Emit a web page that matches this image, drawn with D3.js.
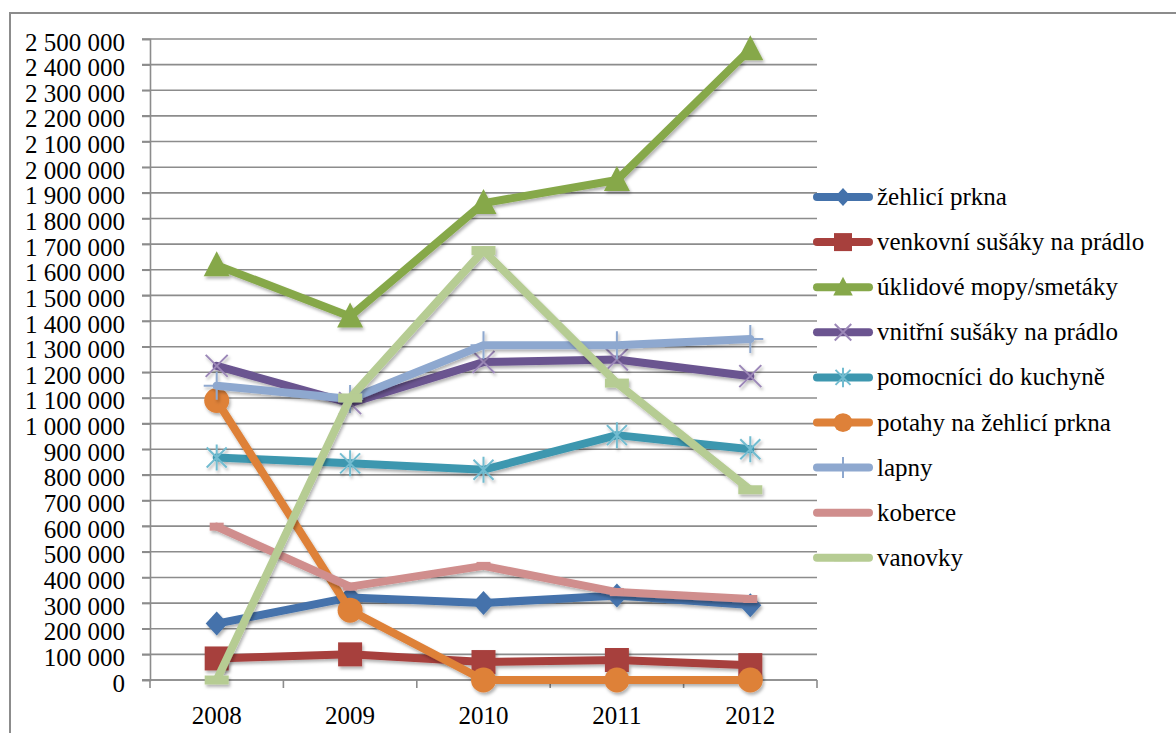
<!DOCTYPE html>
<html>
<head>
<meta charset="utf-8">
<script src="https://cdn.jsdelivr.net/npm/d3@7"></script>
</head>
<body style="margin:0;background:#fff">
<script>
// Years on the category axis
const years = ["2008", "2009", "2010", "2011", "2012"];

// Series names, in legend order
const seriesNames = [
  "žehlicí prkna",
  "venkovní sušáky na prádlo",
  "úklidové mopy/smetáky",
  "vnitřní sušáky na prádlo",
  "pomocníci do kuchyně",
  "potahy na žehlicí prkna",
  "lapny",
  "koberce",
  "vanovky"
];

// Values per series (2008–2012)
const zehliciPrkna     = [220000, 322000, 300000, 330000, 292000];
const venkovniSusaky   = [84000, 100000, 70000, 78000, 58000];
const uklidoveMopy     = [1618000, 1418000, 1860000, 1950000, 2460000];
const vnitrniSusaky    = [1225000, 1080000, 1240000, 1250000, 1185000];
const pomocniciKuchyne = [868000, 845000, 820000, 955000, 900000];
const potahyPrkna      = [1090000, 272000, 0, 0, 0];
const lapny            = [1148000, 1096000, 1306000, 1306000, 1330000];
const koberce          = [598000, 364000, 445000, 343000, 316000];
const vanovky          = [0, 1100000, 1675000, 1158000, 742000];

// Y-axis tick values
const yTicks = d3.range(0, 2500001, 100000);

const seriesValues = [zehliciPrkna, venkovniSusaky, uklidoveMopy, vnitrniSusaky,
  pomocniciKuchyne, potahyPrkna, lapny, koberce, vanovky];

const seriesColors = ["#4472AB", "#A7403D", "#86A84A", "#6B5490", "#3D97AF",
  "#DE8139", "#8EA8CF", "#D08E8D", "#B6CC93"];
const markerColors = ["#4472AB", "#A7403D", "#86A84A", "#9C88B8", "#72BCD0",
  "#DE8139", "#8EA8CF", "#D08E8D", "#B6CC93"];
const markerTypes = ["diamond", "square", "triangle", "x", "star", "circle", "plus", "shortdash", "longdash"];

const FS = 25;

// Serif label text
function label(sel) {
  return sel.style("font-family", '"Liberation Serif"')
    .attr("font-size", FS).attr("fill", "#000");
}

const svg = d3.select("body").append("svg")
  .attr("width", 1176).attr("height", 733).style("display", "block");

// Drop shadow used by lines and markers
const defs = svg.append("defs");
const f = defs.append("filter").attr("id", "shadow")
  .attr("x", "-20%").attr("y", "-20%").attr("width", "140%").attr("height", "140%");
f.append("feDropShadow").attr("dx", 1.5).attr("dy", 2.5).attr("stdDeviation", 1.6)
  .attr("flood-color", "#000").attr("flood-opacity", 0.3);

// Outer chart frame
svg.append("rect").attr("x", 10).attr("y", 13).attr("width", 1200).attr("height", 800)
  .attr("fill", "none").attr("stroke", "#8c8c8c").attr("stroke-width", 2);

const plot = { left: 150, right: 817, top: 39, bottom: 680 };

const x = d3.scaleBand().domain(years).range([plot.left, plot.right]).padding(0);
const cx = d => x(d) + x.bandwidth() / 2;
const y = d3.scaleLinear().domain([0, 2500000]).range([plot.bottom, plot.top]);

const fmt = d3.formatLocale({ decimal: ",", thousands: " ", grouping: [3], currency: ["", ""] }).format(",d");

// Horizontal gridlines
svg.append("g").selectAll("line").data(yTicks).join("line")
  .attr("x1", plot.left - 8).attr("x2", plot.right)
  .attr("y1", d => y(d)).attr("y2", d => y(d))
  .attr("stroke", "#8c8c8c").attr("stroke-width", 1.6);

// Y axis
const yAxis = svg.append("g").attr("transform", `translate(${plot.left},0)`)
  .call(d3.axisLeft(y).tickValues(yTicks).tickFormat(fmt).tickSize(8).tickPadding(17));
yAxis.attr("font-family", null).attr("font-size", null);
yAxis.select(".domain").attr("stroke", "#8c8c8c").attr("stroke-width", 1.6);
yAxis.selectAll(".tick line").attr("stroke", "#8c8c8c").attr("stroke-width", 1.6);
yAxis.selectAll(".tick text").attr("dy", 11).call(label);

// X axis with ticks between categories
const xAxis = svg.append("g").attr("transform", `translate(0,${plot.bottom})`);
xAxis.append("line").attr("x1", plot.left - 8).attr("x2", plot.right)
  .attr("stroke", "#8c8c8c").attr("stroke-width", 1.6);
const bounds = years.map(d => x(d)).concat([plot.right]);
xAxis.selectAll(".tk").data(bounds).join("line").attr("class", "tk")
  .attr("x1", d => d).attr("x2", d => d).attr("y1", 0).attr("y2", 8)
  .attr("stroke", "#8c8c8c").attr("stroke-width", 1.6);
xAxis.selectAll(".lbl").data(years).join("text").attr("class", "lbl")
  .attr("x", d => cx(d)).attr("y", 44).attr("text-anchor", "middle")
  .call(label).text(d => d);

// Marker shapes
function markerPath(type, k) {
  const s = k;
  switch (type) {
    case "diamond": return `M0,${-12*s}L${11*s},0L0,${12*s}L${-11*s},0Z`;
    case "square": return `M${-12*s},${-12*s}h${24*s}v${24*s}h${-24*s}Z`;
    case "triangle": return `M0,${-14*s}L${13*s},${11*s}L${-13*s},${11*s}Z`;
    case "x": return `M${-11*s},${-11*s}L${11*s},${11*s}M${-11*s},${11*s}L${11*s},${-11*s}`;
    case "star": return `M${-10*s},${-10*s}L${10*s},${10*s}M${-10*s},${10*s}L${10*s},${-10*s}M0,${-13*s}L0,${13*s}`;
    case "circle": return d3.arc()({ innerRadius: 0, outerRadius: 12.5*s, startAngle: 0, endAngle: 2*Math.PI });
    case "plus": return `M${-13*s},0L${13*s},0M0,${-14*s}L0,${14*s}`;
    case "shortdash": return `M${-7*s},${-4*s}h${14*s}v${8*s}h${-14*s}Z`;
    case "longdash": return `M${-12*s},${-4.5*s}h${24*s}v${9*s}h${-24*s}Z`;
  }
}
const strokeOnly = t => t === "x" || t === "star" || t === "plus";

function drawMarker(g, type, color, k) {
  const p = g.append("path").attr("d", markerPath(type, k));
  if (strokeOnly(type)) {
    p.attr("fill", "none").attr("stroke", color).attr("stroke-width", 2);
  } else {
    p.attr("fill", color);
  }
  return p;
}

// Series lines and markers
const line = d3.line().x((d, i) => cx(years[i])).y(d => y(d));
seriesNames.forEach((name, si) => {
  const g = svg.append("g").attr("filter", "url(#shadow)");
  g.append("path").datum(seriesValues[si]).attr("d", line)
    .attr("fill", "none").attr("stroke", seriesColors[si]).attr("stroke-width", 8)
    .attr("stroke-linejoin", "round").attr("stroke-linecap", "round");
  seriesValues[si].forEach((v, i) => {
    const mg = g.append("g").attr("transform", `translate(${cx(years[i])},${y(v)})`);
    drawMarker(mg, markerTypes[si], markerColors[si], 1);
  });
});

// Legend
const legend = svg.append("g");
seriesNames.forEach((name, si) => {
  const ly = 197 + si * 45.1;
  const g = legend.append("g").attr("transform", `translate(813,${ly})`);
  g.append("line").attr("x1", 4).attr("x2", 56).attr("y1", 0).attr("y2", 0)
    .attr("stroke", seriesColors[si]).attr("stroke-width", 8).attr("stroke-linecap", "round");
  const mg = g.append("g").attr("transform", "translate(30,0)");
  drawMarker(mg, markerTypes[si], markerColors[si], 0.75);
  g.append("text").attr("x", 64).attr("y", 0).attr("dy", 8)
    .call(label).text(name);
});
</script>
</body>
</html>
